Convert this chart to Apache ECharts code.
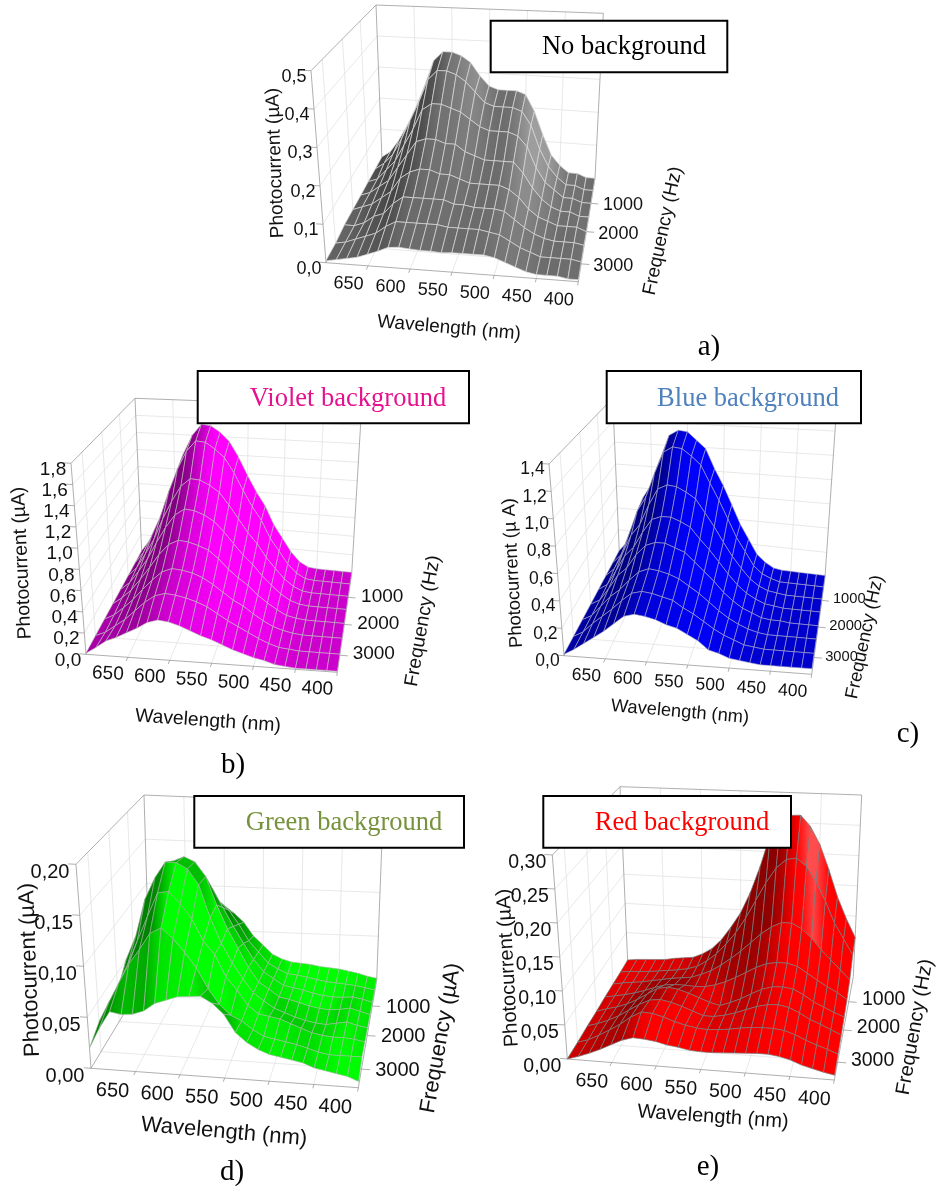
<!DOCTYPE html>
<html><head><meta charset="utf-8">
<style>html,body{margin:0;padding:0;background:#fff}#c{width:936px;height:1186px}</style>
<script src="https://cdn.jsdelivr.net/npm/echarts@6/dist/echarts.min.js"></script>
</head><body><div id="c"></div>
<script>
// ---------- shared axes ----------
const wavelengths = [700,687.5,675,662.5,650,637.5,625,612.5,600,587.5,575,562.5,550,537.5,525,512.5,500,487.5,475,462.5,450,437.5,425,412.5,400];
const frequencies = [0,500,1000,1500,2000,2500,3000,3500];
const wavelengthTicks = [650,600,550,500,450,400];
const frequencyTicks = [1000,2000,3000];
const ticksA = [0,0.1,0.2,0.3,0.4,0.5];
const ticksB = [0,0.2,0.4,0.6,0.8,1.0,1.2,1.4,1.6,1.8];
const ticksC = [0,0.2,0.4,0.6,0.8,1.0,1.2,1.4];
const ticksD = [0,0.05,0.10,0.15,0.20];
const ticksE = [0,0.05,0.10,0.15,0.20,0.25,0.30];

// ---------- photocurrent (uA): one row per frequency (back to front), one value per wavelength ----------
const currentA = [
[.01,.03,.07,.12,.18,.25,.33,.36,.36,.35,.33,.29,.26,.25,.25,.25,.24,.19,.12,.06,.03,.01,.01,0,0],
[.01,.03,.06,.11,.17,.23,.30,.33,.33,.32,.30,.27,.24,.23,.23,.23,.22,.18,.11,.06,.03,.01,.01,0,0],
[.01,.02,.05,.08,.13,.18,.24,.26,.26,.25,.24,.22,.20,.19,.19,.19,.18,.15,.09,.05,.03,.01,.01,0,0],
[.01,.02,.04,.06,.10,.14,.18,.19,.19,.18,.18,.16,.15,.14,.14,.14,.14,.11,.07,.04,.02,.01,.01,0,0],
[.01,.02,.03,.05,.07,.11,.13,.14,.14,.13,.13,.12,.11,.11,.11,.11,.10,.08,.05,.03,.02,.01,.01,.01,0],
[.01,.01,.02,.04,.05,.08,.10,.10,.10,.10,.10,.09,.09,.085,.085,.085,.08,.06,.04,.025,.015,.01,.01,.01,.005],
[.005,.01,.02,.03,.04,.06,.075,.075,.075,.075,.075,.07,.07,.07,.07,.065,.06,.045,.03,.02,.01,.01,.01,.01,.005],
[.005,.01,.015,.02,.03,.04,.052,.054,.052,.05,.05,.048,.05,.05,.05,.05,.045,.035,.025,.015,.01,.01,.01,.005,.005]];
const currentB = [
[.01,.15,.36,.6,.9,1.18,1.4,1.53,1.52,1.45,1.35,1.18,.98,.8,.65,.45,.31,.17,.07,.02,.01,.01,.01,.01,.01],
[.01,.14,.34,.56,.85,1.11,1.32,1.44,1.43,1.36,1.27,1.11,.92,.75,.61,.42,.29,.16,.07,.02,.01,.01,.01,.01,.01],
[.01,.11,.27,.44,.67,.87,1.04,1.13,1.12,1.07,1.0,.87,.73,.59,.48,.34,.23,.13,.06,.02,.01,.01,.01,.01,.01],
[.01,.09,.22,.36,.54,.71,.85,.92,.91,.87,.81,.71,.59,.48,.39,.28,.19,.11,.05,.02,.01,.01,.01,.01,.01],
[.01,.08,.17,.29,.42,.56,.67,.72,.71,.68,.64,.56,.46,.38,.31,.22,.15,.09,.04,.02,.01,.01,.01,.01,.01],
[.01,.06,.14,.23,.34,.44,.53,.57,.56,.54,.50,.44,.37,.30,.25,.18,.12,.07,.04,.02,.01,.01,.01,.01,.01],
[.01,.05,.12,.19,.28,.37,.44,.47,.46,.44,.41,.37,.31,.25,.20,.15,.10,.06,.03,.02,.01,.01,.01,.01,.01],
[.01,.07,.14,.18,.23,.28,.34,.37,.36,.33,.29,.25,.22,.18,.14,.11,.08,.06,.03,.02,.01,.01,.01,.01,.01]];
const currentC = [
[.01,.10,.30,.52,.65,.88,1.09,1.14,1.13,1.06,.99,.82,.68,.52,.36,.24,.12,.06,.02,.01,.01,.01,.01,.01,.01],
[.01,.09,.28,.49,.62,.83,1.02,1.07,1.06,1.0,.93,.78,.64,.49,.34,.23,.12,.06,.03,.01,.01,.01,.01,.01,.01],
[.01,.08,.22,.38,.48,.65,.79,.83,.82,.78,.73,.62,.51,.39,.28,.19,.11,.06,.03,.02,.01,.01,.01,.01,.01],
[.01,.06,.18,.31,.39,.52,.63,.66,.66,.63,.59,.50,.42,.33,.24,.16,.10,.06,.03,.02,.01,.01,.01,.01,.01],
[.01,.05,.15,.26,.33,.44,.52,.55,.55,.52,.49,.42,.35,.28,.20,.14,.09,.06,.03,.02,.02,.01,.01,.01,.01],
[.01,.05,.13,.21,.27,.35,.42,.45,.44,.42,.39,.34,.29,.23,.17,.12,.08,.05,.03,.02,.02,.02,.02,.02,.02],
[.01,.05,.12,.18,.24,.31,.37,.39,.38,.36,.34,.29,.25,.20,.15,.11,.08,.05,.04,.03,.03,.03,.03,.03,.03],
[.01,.05,.10,.15,.20,.26,.32,.34,.33,.31,.28,.26,.22,.18,.12,.10,.07,.06,.05,.04,.04,.04,.04,.04,.04]];
const currentD = [
[.01,.02,.03,.04,.06,.07,.08,.08,.078,.07,.06,.045,.035,.025,.02,.017,.016,.015,.013,.012,.011,.009,.007,.004,.002],
[.01,.03,.045,.065,.09,.105,.11,.105,.095,.085,.07,.052,.04,.028,.022,.017,.016,.014,.012,.01,.009,.008,.007,.005,.003],
[.015,.04,.06,.09,.115,.135,.14,.135,.12,.1,.08,.062,.045,.032,.025,.018,.016,.014,.011,.009,.008,.008,.009,.007,.004],
[.02,.05,.08,.11,.14,.16,.165,.16,.145,.115,.09,.07,.05,.035,.028,.02,.018,.015,.012,.01,.009,.01,.012,.009,.006],
[.03,.066,.091,.13,.153,.17,.17,.164,.148,.114,.088,.068,.052,.038,.03,.023,.019,.015,.012,.01,.009,.011,.013,.01,.008],
[.025,.05,.075,.1,.125,.15,.152,.14,.125,.103,.09,.068,.055,.04,.032,.03,.028,.024,.02,.016,.014,.013,.013,.012,.01],
[.03,.05,.07,.09,.105,.122,.128,.118,.105,.09,.07,.055,.045,.04,.032,.026,.024,.022,.02,.017,.014,.012,.012,.012,.012],
[.02,.04,.057,.055,.056,.06,.068,.072,.076,.077,.078,.072,.062,.045,.036,.03,.026,.024,.022,.02,.016,.014,.012,.01,.006]];
const currentE = [
[.003,.005,.006,.007,.008,.011,.013,.015,.022,.032,.048,.07,.095,.13,.175,.23,.255,.262,.263,.245,.216,.175,.13,.095,.065],
[.002,.004,.005,.006,.008,.01,.012,.015,.02,.03,.043,.06,.08,.105,.135,.165,.19,.205,.208,.195,.17,.14,.105,.08,.055],
[.002,.005,.007,.009,.012,.015,.018,.02,.022,.028,.035,.045,.057,.07,.085,.1,.112,.12,.12,.112,.098,.08,.065,.05,.035],
[.002,.005,.008,.012,.017,.023,.028,.03,.03,.029,.03,.034,.04,.048,.057,.066,.073,.076,.076,.072,.062,.052,.043,.035,.025],
[.001,.006,.01,.016,.024,.034,.044,.047,.045,.04,.034,.028,.024,.03,.037,.046,.054,.059,.06,.058,.05,.04,.033,.026,.02],
[.001,.006,.012,.02,.03,.04,.048,.05,.047,.042,.036,.03,.03,.033,.038,.044,.05,.054,.055,.052,.045,.036,.03,.023,.016],
[0,.005,.013,.022,.032,.044,.053,.052,.048,.042,.038,.035,.034,.035,.037,.04,.042,.043,.043,.041,.036,.029,.023,.018,.012],
[0,.005,.011,.018,.026,.034,.039,.038,.036,.032,.03,.027,.026,.026,.027,.028,.029,.03,.03,.028,.024,.018,.014,.01,.007]];

// ---------- panel layout and styling ----------
const panels = [
{ z:currentA, zt:ticksA, dec:1, yName:'Photocurrent (µA)', fName:'Frequency (Hz)',
  fl:[326,262.7], fr:[578.3,281.7], bl:[382,160], br:[595,178.3], flt:[311,70.7], frt:[588,85], blt:[376,5], brt:[603.3,13.3],
  yOff:[-17,6], xOff:[-19.5,18], fOff:[32,2], font:18, nameFont:19,
  yPos:[275.5,163,92], fPos:[663,231,78], xPos:[449,328,-5],
  base:[255,255,255], flat:.42, kDark:.13, kBright:.09, kF:0, min:.27, max:.62, mesh:'#d8d8d8', meshW:.7 },
{ z:currentB, zt:ticksB, dec:1, yName:'Photocurrent (µA)', fName:'Frequency (Hz)',
  fl:[86,654.3], fr:[337.3,672.3], bl:[141.7,551.7], br:[351.7,573.3], flt:[71,463.3], frt:[346.7,478.3], blt:[135,398.3], brt:[361.7,406.7],
  yOff:[-18,6], xOff:[-20,16.5], fOff:[34,-1], font:19, nameFont:19.3,
  yPos:[22,563,92.5], fPos:[423,621,80], xPos:[208,721,-4],
  base:[255,0,255], flat:.8, kDark:.2, kBright:.2, kF:0, min:.5, max:1, mesh:'#bdbdbd', meshW:.6 },
{ z:currentC, zt:ticksC, dec:1, yName:'Photocurrent (µ A)', fName:'Frequency (Hz)',
  fl:[564,655.7], fr:[811.7,674.3], bl:[619.3,551.7], br:[825,576.7], flt:[549,464], frt:[820,478.3], blt:[612.7,398.3], brt:[836.7,406.7],
  yOff:[-16.5,5.5], xOff:[-19,17], fOff:[27.5,-1], font:17.5, fFont:14.7, nameFont:18.3,
  yPos:[513,573,93], fPos:[865,637,78], xPos:[680,712,-5],
  base:[0,0,255], flat:.8, kDark:.2, kBright:.2, kF:0, min:.5, max:1, mesh:'#a8a8c8', meshW:.6 },
{ z:currentD, zt:ticksD, dec:2, yName:'Photocurrent (µA)', fName:'Frequency (µA)',
  fl:[91,1068.3], fr:[358.3,1087.7], bl:[149.3,971.7], br:[376.7,980], flt:[76,864.3], frt:[366.7,880], blt:[144,795], brt:[383.3,805],
  yOff:[-26,8], xOff:[-23,19.5], fOff:[36,1], font:20, nameFont:22,
  yPos:[30,970,92], fPos:[441,1038,80], xPos:[224,1132,-5],
  base:[0,255,0], flat:.98, kDark:.3, kBright:.1, kF:1.6, min:.5, max:1, mesh:'#a4b8a4', meshW:.6 },
{ z:currentE, zt:ticksE, dec:2, yName:'Photocurrent (µA)', fName:'Frequency (Hz)',
  fl:[567.3,1059], fr:[834.3,1080], bl:[627.7,961.7], br:[853.3,976.7], flt:[552.3,855], frt:[846.7,875], blt:[620,786.7], brt:[861.7,795],
  yOff:[-25,7.5], xOff:[-20,19], fOff:[35,-2], font:19.5, nameFont:20,
  yPos:[508,968,93], fPos:[915,1027,80], xPos:[713,1117,-4],
  base:[255,0,0], flat:.98, kDark:.42, kBright:.1, kF:1.5, min:.55, max:1, mesh:'#7a7a7a', meshW:.7,
  spec:{sl:-2.0, sf:-1.3, wl:.4, wf:.25, amp:.8} }
];
const titles = [
 {text:'No background', color:'#000000', box:[490.7,20.7,236.6,51.6], at:[624,47.5]},
 {text:'Violet background', color:'#e5118f', box:[197.7,371,271.3,52.3], at:[348,399]},
 {text:'Blue background', color:'#4f81bd', box:[606.7,371,254.3,52.3], at:[748,399]},
 {text:'Green background', color:'#76923c', box:[194.3,796,269.7,51.7], at:[344,823]},
 {text:'Red background', color:'#ff0000', box:[543.3,796,247.7,51.7], at:[682,823]}
];
const letters = [['a)',709,347],['b)',233,765],['c)',908,734],['d)',232,1172],['e)',708,1167]];

// ---------- projection of (wavelength, frequency, current) into the page-sized value axes ----------
const PERSP = 1.25;
function lerp(a,b,t){return [a[0]+(b[0]-a[0])*t, a[1]+(b[1]-a[1])*t];}
function project(p,w,f,z){
  const u=(700-w)/300, t=f/3500, s=t/(PERSP-(PERSP-1)*t);
  const v=z/p.zt[p.zt.length-1];
  const lo=lerp(lerp(p.bl,p.br,u),lerp(p.fl,p.fr,u),s);
  const hi=lerp(lerp(p.blt,p.brt,u),lerp(p.flt,p.frt,u),s);
  return lerp(lo,hi,v);
}
function vertexShade(p,r,c){
  const Z=p.z, zm=p.zt[p.zt.length-1], n=wavelengths.length, m=frequencies.length;
  const c0=Math.max(c-1,0), c1=Math.min(c+1,n-1), r0=Math.max(r-1,0), r1=Math.min(r+1,m-1);
  const sl=(Z[r][c1]-Z[r][c0])/(c1-c0)/zm*24;
  const sf=(Z[r1][c]-Z[r0][c])/(r1-r0)/zm*7;
  let s=sl>0 ? p.flat-p.kDark*sl : p.flat-p.kBright*sl;
  if(sf>0) s-=p.kF*sf;
  s=Math.max(p.min,Math.min(p.max,s));
  if(p.spec){
    const a=(sl-p.spec.sl)/p.spec.wl, b=(sf-p.spec.sf)/p.spec.wf;
    s+=p.spec.amp*Math.exp(-(a*a+b*b));
  }
  return s;
}
function colorOf(p,s){
  const k=Math.min(s,1), w=Math.max(s-1,0);
  const ch=p.base.map(b=>Math.round(b*k+(255-b*k)*Math.min(w,1)));
  return 'rgb('+ch.join(',')+')';
}
function frameSegments(p){
  const zm=p.zt[p.zt.length-1], segs=[], light='#e2e2e2', dark='#9a9a9a';
  const add=(a,b,col)=>segs.push([a,b,col]);
  const wt=wavelengthTicks, ft=frequencyTicks;
  p.zt.forEach(z=>{
    if(z===0||z===zm) return;
    add([700,3500,z],[700,0,z],light);
    add([700,0,z],[400,0,z],light);
  });
  ft.forEach(f=>{
    add([700,f,0],[700,f,zm],light);
    add([700,f,0],[400,f,0],light);
  });
  wt.forEach(w=>{
    if(w===400) return;
    add([w,0,0],[w,0,zm],light);
    add([w,3500,0],[w,0,0],light);
  });
  add([700,0,0],[700,0,zm],dark);
  add([700,3500,0],[700,3500,zm],dark);
  add([700,3500,zm],[700,0,zm],dark);
  add([700,0,zm],[400,0,zm],dark);
  add([400,0,0],[400,0,zm],dark);
  add([700,3500,0],[400,3500,0],dark);
  add([400,3500,0],[400,0,0],dark);
  add([700,3500,0],[700,0,0],dark);
  wt.forEach(w=>add([w,3500,0],[w,3600,0],dark));
  ft.forEach(f=>add([400,f,0],[390,f,0],dark));
  p.zt.forEach(z=>add([700,3500,z],[708,3500,z],dark));
  return segs;
}
function labelList(p){
  const out=[], F=p.font;
  p.zt.forEach(z=>{
    const q=project(p,700,3500,z);
    out.push([z.toFixed(p.dec).replace('.',','),q[0]+p.yOff[0],q[1]+p.yOff[1],0,F]);
  });
  wavelengthTicks.forEach(w=>{
    const q=project(p,w,3500,0);
    out.push([String(w),q[0]+p.xOff[0],q[1]+p.xOff[1],-3,F]);
  });
  frequencyTicks.forEach(f=>{
    const q=project(p,400,f,0);
    out.push([String(f),q[0]+p.fOff[0],q[1]+p.fOff[1],0,p.fFont||F]);
  });
  out.push([p.yName,p.yPos[0],p.yPos[1],p.yPos[2],p.nameFont]);
  out.push([p.fName,p.fPos[0],p.fPos[1],p.fPos[2],p.nameFont]);
  out.push(['Wavelength (nm)',p.xPos[0],p.xPos[1],p.xPos[2],p.nameFont]);
  return out;
}

// ---------- series ----------
const series=[];
panels.forEach(p=>{
  const segs=frameSegments(p);
  series.push({type:'custom',coordinateSystem:'cartesian2d',silent:true,clip:false,animation:false,z:2,
    data:segs.map((s,i)=>[i]),
    renderItem:(params,api)=>{
      const s=segs[params.dataIndex];
      const a=api.coord(project(p,s[0][0],s[0][1],s[0][2]));
      const b=api.coord(project(p,s[1][0],s[1][1],s[1][2]));
      return {type:'line',shape:{x1:a[0],y1:a[1],x2:b[0],y2:b[1]},style:{stroke:s[2],lineWidth:.8}};
    }});
  const quads=[];
  for(let r=0;r<frequencies.length-1;r++) for(let c=0;c<wavelengths.length-1;c++) quads.push([r,c]);
  series.push({type:'custom',coordinateSystem:'cartesian2d',silent:true,clip:false,animation:false,z:3,
    data:quads,
    renderItem:(params,api)=>{
      const [r,c]=quads[params.dataIndex];
      const pt=(ri,ci)=>api.coord(project(p,wavelengths[ci],frequencies[ri],p.z[ri][ci]));
      const sL=(vertexShade(p,r,c)+vertexShade(p,r+1,c))/2, sR=(vertexShade(p,r,c+1)+vertexShade(p,r+1,c+1))/2;
      return {type:'polygon',shape:{points:[pt(r,c),pt(r,c+1),pt(r+1,c+1),pt(r+1,c)]},
        style:{fill:new echarts.graphic.LinearGradient(0,0,1,0,[{offset:0,color:colorOf(p,sL)},{offset:1,color:colorOf(p,sR)}]),
               stroke:p.mesh,lineWidth:p.meshW}};
    }});
  const labs=labelList(p);
  series.push({type:'custom',coordinateSystem:'cartesian2d',silent:true,clip:false,animation:false,z:4,
    data:labs.map((l,i)=>[i]),
    renderItem:(params,api)=>{
      const l=labs[params.dataIndex], q=api.coord([l[1],l[2]]);
      return {type:'text',x:q[0],y:q[1],rotation:l[3]*Math.PI/180,
        style:{text:l[0],align:'center',verticalAlign:'middle',fill:'#111',font:l[4]+'px "Liberation Sans"'}};
    }});
});
const graphic=[];
titles.forEach(t=>{
  graphic.push({type:'rect',z:50,shape:{x:t.box[0],y:t.box[1],width:t.box[2],height:t.box[3]},style:{fill:'#fff',stroke:'#000',lineWidth:2}});
  graphic.push({type:'text',z:51,x:t.at[0],y:t.at[1],style:{text:t.text,fill:t.color,align:'center',verticalAlign:'middle',font:'26.5px "Liberation Serif"'}});
});
letters.forEach(l=>graphic.push({type:'text',z:51,x:l[1],y:l[2],style:{text:l[0],fill:'#000',align:'center',verticalAlign:'middle',font:'29px "Liberation Serif"'}}));

const chart=echarts.init(document.getElementById('c'),null,{width:936,height:1186});
chart.setOption({
  animation:false,backgroundColor:'#fff',
  grid:{left:0,top:0,width:936,height:1186,containLabel:false},
  xAxis:{type:'value',min:0,max:936,show:false},
  yAxis:{type:'value',min:0,max:1186,inverse:true,show:false},
  graphic:graphic,
  series:series
});
</script></body></html>
